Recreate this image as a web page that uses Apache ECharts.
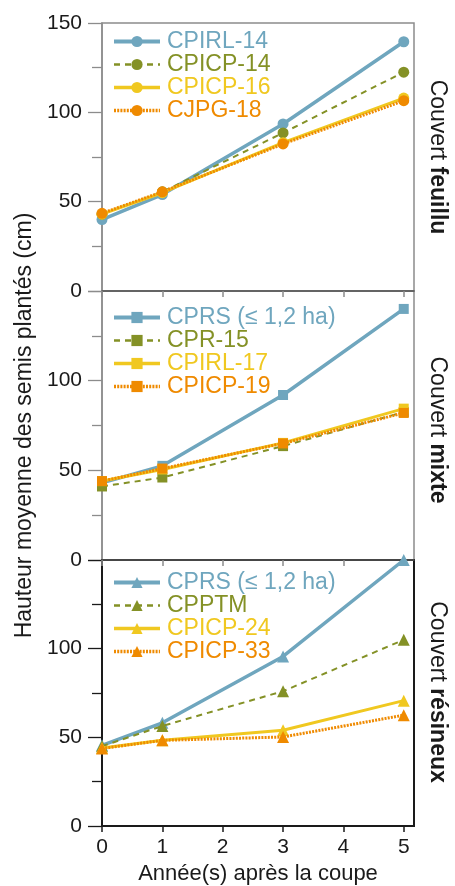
<!DOCTYPE html>
<html>
<head>
<meta charset="utf-8">
<script src="https://cdn.jsdelivr.net/npm/echarts@6/dist/echarts.min.js"></script>
<style>
  html, body { margin: 0; padding: 0; background: #fff; }
  #chart { width: 455px; height: 886px; }
</style>
</head>
<body>
<div id="chart"></div>
<script>
// années après la coupe
var years = [0, 1, 3, 5]
var yearTicks = [0, 1, 2, 3, 4, 5]
var yLabelsTop = [0, 50, 100, 150]
var yLabels = [0, 50, 100]

// Couvert feuillu (cercles)
var feuilluNames = ['CPIRL-14', 'CPICP-14', 'CPICP-16', 'CJPG-18']
var cpirl14 = [40, 54, 93.5, 139.5]
var cpicp14 = [43, 55.5, 88.5, 122.5]
var cpicp16 = [43, 55, 83, 108]
var cjpg18 = [43.5, 55.5, 82.3, 106.5]

// Couvert mixte (carrés)
var mixteNames = ['CPRS (≤ 1,2 ha)', 'CPR-15', 'CPIRL-17', 'CPICP-19']
var cprsMixte = [43, 52.5, 92, 140]
var cpr15 = [41, 46, 63.5, 82.5]
var cpirl17 = [44, 50.5, 65.3, 84.4]
var cpicp19 = [44, 51, 65, 82]

// Couvert résineux (triangles)
var resineuxNames = ['CPRS (≤ 1,2 ha) ', 'CPPTM', 'CPICP-24', 'CPICP-33']
var cprsResineux = [45.5, 58.2, 95.6, 150]
var cpptm = [45, 56.4, 76, 105]
var cpicp24 = [44, 48.3, 54, 70.7]
var cpicp33 = [43.7, 48.3, 50.2, 62.5]

var colors = ['#6fa6be', '#849126', '#f0c820', '#ef8a00']
var lineTypes = ['solid', [6, 5], 'solid', [2, 1.2]]
var lineWidths = [3.5, 2, 3, 3]
var font = "'Liberation Sans', Arial, sans-serif"

function pairs(vals) {
  return years.map(function (x, i) { return [x, vals[i]] })
}

function makeSeries(names, data, symbol, size, idx) {
  return names.map(function (n, i) {
    return {
      name: n,
      type: 'line',
      xAxisIndex: idx,
      yAxisIndex: idx,
      data: pairs(data[i]),
      symbol: symbol,
      symbolSize: size,
      showAllSymbol: true,
      animation: false,
      itemStyle: { color: colors[i] },
      lineStyle: { color: colors[i], width: lineWidths[i], type: lineTypes[i] },
      z: 2 + i
    }
  })
}

function makeLegend(names, top, lh) {
  return {
    orient: 'vertical',
    left: 112,
    top: top,
    padding: 0,
    itemWidth: 46,
    itemHeight: 14,
    itemGap: 0,
    selectedMode: false,
    data: names.map(function (n, i) {
      return {
        name: n,
        textStyle: { color: colors[i] },
        lineStyle: { width: lineWidths[i] + 0.5, type: lineTypes[i], color: colors[i] }
      }
    }),
    textStyle: { fontFamily: font, fontSize: 23, lineHeight: lh, padding: [0, 0, 0, 2] }
  }
}

var grids = [
  { left: 102, top: 23, width: 312, height: 268, borderColor: '#8c8c8c', borderWidth: 1.5 },
  { left: 102, top: 291, width: 312, height: 269, borderColor: '#8c8c8c', borderWidth: 1.5 },
  { left: 102, top: 560, width: 312, height: 269, borderColor: '#1a1a1a', borderWidth: 2 }
]

function makeX(idx) {
  var c = idx === 2 ? '#1a1a1a' : '#555'
  var ax = {
    type: 'value',
    gridIndex: idx,
    min: 0,
    max: 5.17,
    splitLine: { show: false },
    axisLine: { show: true, lineStyle: { color: c, width: idx === 2 ? 2 : 1.5 } },
    axisTick: { show: true, length: 6, customValues: yearTicks, lineStyle: { color: idx === 2 ? '#1a1a1a' : '#8c8c8c', width: 1.5 } },
    axisLabel: { show: idx === 2, customValues: yearTicks, margin: 11, color: '#1a1a1a', fontFamily: font, fontSize: 21 }
  }
  if (idx === 2) {
    ax.name = 'Année(s) après la coupe'
    ax.nameLocation = 'middle'
    ax.nameGap = 37
    ax.nameTextStyle = { color: '#1a1a1a', fontFamily: font, fontSize: 22 }
  }
  return ax
}

function makeY(idx) {
  var c = idx === 2 ? '#1a1a1a' : '#8c8c8c'
  var ax = {
    type: 'value',
    gridIndex: idx,
    min: 0,
    max: 150,
    interval: 50,
    splitLine: { show: false },
    axisLine: { show: true, lineStyle: { color: c, width: idx === 2 ? 2 : 1.5 } },
    axisTick: { show: true, length: 14, lineStyle: { color: c, width: 1.3 } },
    minorTick: { show: true, splitNumber: 2, length: 10, lineStyle: { color: c, width: 1.3 } },
    axisLabel: { customValues: idx === 0 ? yLabelsTop : yLabels, margin: 20, color: '#1a1a1a', fontFamily: font, fontSize: 21 }
  }
  if (idx === 1) {
    ax.name = 'Hauteur moyenne des semis plantés (cm)'
    ax.nameLocation = 'middle'
    ax.nameGap = 63
    ax.nameTextStyle = { color: '#1a1a1a', fontFamily: font, fontSize: 23 }
  }
  return ax
}

function sideLabel(word, y) {
  return {
    type: 'text',
    x: 437,
    y: y,
    rotation: -Math.PI / 2,
    style: {
      text: '{a|Couvert }{b|' + word + '}',
      align: 'center',
      verticalAlign: 'middle',
      rich: {
        a: { fontFamily: font, fontSize: 23, fill: '#1a1a1a' },
        b: { fontFamily: font, fontSize: 23, fontWeight: 'bold', fill: '#1a1a1a' }
      }
    }
  }
}

var chart = echarts.init(document.getElementById('chart'))
chart.setOption({
  backgroundColor: '#fff',
  animation: false,
  grid: grids.map(function (g) { return Object.assign({ show: true }, g) }),
  xAxis: [makeX(0), makeX(1), makeX(2)],
  yAxis: [makeY(0), makeY(1), makeY(2)],
  legend: [
    makeLegend(feuilluNames, 30, 22),
    makeLegend(mixteNames, 306, 22.7),
    makeLegend(resineuxNames, 571, 23)
  ],
  graphic: [
    sideLabel('feuillu', 157),
    sideLabel('mixte', 430),
    sideLabel('résineux', 692)
  ],
  series: [].concat(
    makeSeries(feuilluNames, [cpirl14, cpicp14, cpicp16, cjpg18], 'circle', 11, 0),
    makeSeries(mixteNames, [cprsMixte, cpr15, cpirl17, cpicp19], 'rect', 10, 1),
    makeSeries(resineuxNames, [cprsResineux, cpptm, cpicp24, cpicp33], 'triangle', 12, 2)
  )
})
</script>
</body>
</html>
